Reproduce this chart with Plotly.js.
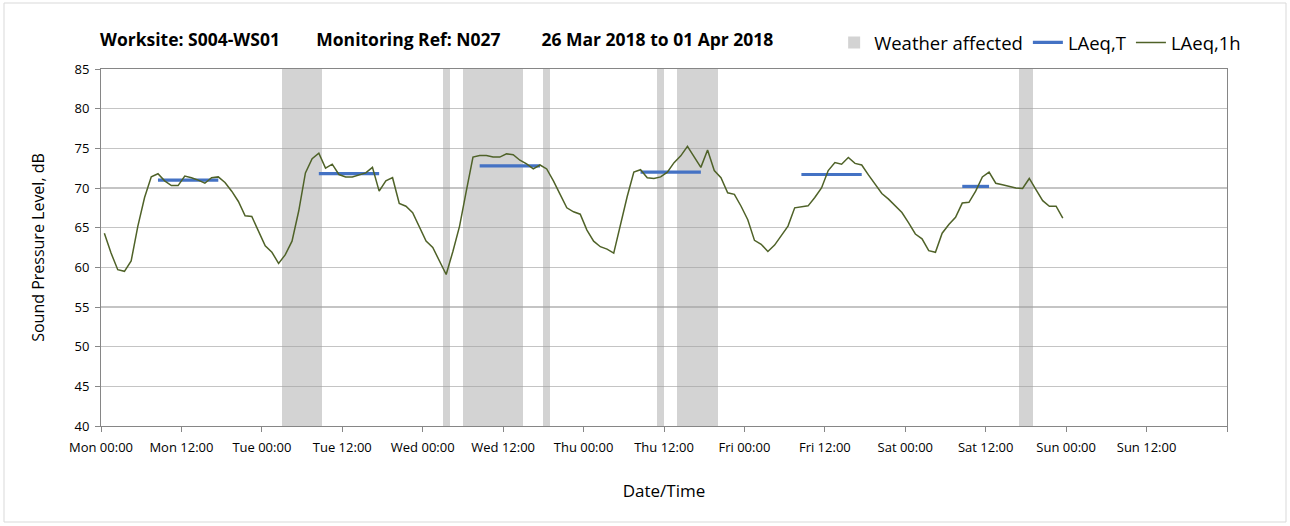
<!DOCTYPE html>
<html><head><meta charset="utf-8">
<script src="https://cdn.plot.ly/plotly-3.0.1.min.js"></script>
<style>html,body{margin:0;padding:0;background:#fff}#chart{width:1290px;height:526px}</style>
</head><body><div id="chart"></div>
<script>
// ---- data ----
const tickHours = [0, 12, 24, 36, 48, 60, 72, 84, 96, 108, 120, 132, 144, 156, 168];
const tickLabels = ['Mon 00:00', 'Mon 12:00', 'Tue 00:00', 'Tue 12:00', 'Wed 00:00', 'Wed 12:00',
  'Thu 00:00', 'Thu 12:00', 'Fri 00:00', 'Fri 12:00', 'Sat 00:00', 'Sat 12:00',
  'Sun 00:00', 'Sun 12:00', ''];
const dayBoundaries = [24, 48, 72, 96, 120, 144];

// hourly LAeq,1h (hour 0 = Mon 00:00), plotted at mid-hour
const laeq1h = [
  64.3, 61.8, 59.7, 59.5, 60.8, 65.2, 68.8, 71.4, 71.8, 70.9, 70.3, 70.3,
  71.5, 71.3, 71.0, 70.6, 71.3, 71.4, 70.7, 69.6, 68.3, 66.5, 66.4, 64.5,
  62.7, 61.9, 60.5, 61.6, 63.3, 67.1, 71.9, 73.7, 74.4, 72.5, 73.0, 71.7,
  71.4, 71.4, 71.65, 71.9, 72.6, 69.6, 70.9, 71.3, 68.05, 67.7, 66.9, 65.2,
  63.3, 62.5, 60.9, 59.1, 62.0, 65.2, 69.6, 73.9, 74.1, 74.1, 73.9, 73.9,
  74.3, 74.2, 73.5, 73.05, 72.4, 72.9, 72.4, 70.9, 69.2, 67.5, 67.0, 66.7,
  64.7, 63.3, 62.6, 62.3, 61.8, 65.4, 68.9, 72.0, 72.3, 71.3, 71.2, 71.4,
  72.0, 73.2, 74.05, 75.25, 73.9, 72.6, 74.8, 72.2, 71.3, 69.4, 69.2, 67.7,
  66.0, 63.4, 62.9, 62.0, 62.8, 64.0, 65.2, 67.5, 67.6, 67.75, 68.8, 70.0,
  72.2, 73.2, 73.0, 73.85, 73.1, 72.9, 71.65, 70.5, 69.3, 68.6, 67.8, 66.9,
  65.6, 64.2, 63.6, 62.1, 61.9, 64.3, 65.4, 66.3, 68.1, 68.2, 69.6, 71.4,
  72.0, 70.6, 70.4, 70.2, 70.0, 69.95, 71.2, 69.8, 68.4, 67.7, 67.7, 66.2
];

// LAeq,T periods
const laeqTStart = [8.5, 32.5, 56.5, 80.5, 104.5, 128.5];
const laeqTEnd   = [17.5, 41.5, 65.5, 89.5, 113.5, 132.5];
const laeqTValue = [71.0, 71.8, 72.8, 72.0, 71.7, 70.2];

// weather affected periods (hours from Mon 00:00)
const weatherStart = [27, 51, 54, 66, 83, 86, 137];
const weatherEnd   = [33, 52, 63, 67, 84, 92, 139];

// ---- build ----
const FONT = '"Open Sans", Lato, sans-serif';
const yMin = 40, yMax = 85;

const x1h = laeq1h.map((_, i) => i + 0.5);

const tX = [], tY = [];
laeqTStart.forEach((s, i) => {
  tX.push(s, laeqTEnd[i], null);
  tY.push(laeqTValue[i], laeqTValue[i], null);
});

const sp = n => '&nbsp;'.repeat(n);

const traces = [
  {
    type: 'bar', name: 'Weather affected',
    x: weatherStart.map((s, i) => (s + weatherEnd[i]) / 2),
    width: weatherStart.map((s, i) => weatherEnd[i] - s),
    y: weatherStart.map(() => yMax - yMin), base: yMin,
    marker: {color: 'rgba(160,160,160,0.46)', line: {width: 0}},
    hoverinfo: 'skip', showlegend: true
  },
  {
    type: 'scatter', mode: 'lines', name: 'LAeq,T', x: tX, y: tY,
    line: {color: '#4472c4', width: 3.2}, connectgaps: false
  },
  {
    type: 'scatter', mode: 'lines', name: 'LAeq,1h', x: x1h, y: laeq1h,
    line: {color: '#4f6228', width: 1.5}
  }
];

const layout = {
  width: 1290, height: 526,
  paper_bgcolor: '#ffffff', plot_bgcolor: '#ffffff',
  margin: {l: 101, r: 63, t: 69, b: 100},
  font: {family: FONT, color: '#000000', size: 13},
  title: {
    text: 'Worksite: S004-WS01' + sp(8) + 'Monitoring Ref: N027' + sp(9) + '26 Mar 2018 to 01 Apr 2018',
    x: 100 / 1290, xanchor: 'left', xref: 'container',
    y: 1 - 40 / 526, yanchor: 'middle', yref: 'container',
    font: {family: FONT, size: 17.5, weight: 'bold', color: '#000000'}
  },
  showlegend: true,
  legend: {
    orientation: 'h', x: 1.017, xanchor: 'right', y: 1.073, yanchor: 'middle',
    font: {family: FONT, size: 18.5, color: '#000000'},
    bgcolor: 'rgba(0,0,0,0)', itemwidth: 30, tracegroupgap: 0
  },
  xaxis: {
    range: [0, 168], tickvals: tickHours, ticktext: tickLabels,
    showgrid: false, zeroline: false,
    ticks: 'outside', ticklen: 5, tickcolor: '#868686', ticklabelstandoff: 4,
    showline: true, linecolor: '#868686', linewidth: 1, mirror: true,
    tickfont: {family: FONT, size: 13, color: '#000000'},
    title: {text: 'Date/Time', font: {family: FONT, size: 17, color: '#000000'}, standoff: 30},
    automargin: false
  },
  xaxis2: {
    overlaying: 'x', anchor: 'y', range: [0, 168], tickvals: dayBoundaries,
    showticklabels: false, ticks: '', showgrid: true, gridcolor: '#d9d9d9', gridwidth: 1.5,
    zeroline: false, showline: false
  },
  yaxis: {
    range: [yMin, yMax], dtick: 5, tick0: 40,
    showgrid: true, gridcolor: '#c4c4c4', gridwidth: 1.2, zeroline: false,
    ticks: 'outside', ticklen: 5, tickcolor: '#868686', ticklabelstandoff: 3,
    showline: true, linecolor: '#868686', linewidth: 1, mirror: true,
    tickfont: {family: FONT, size: 13, color: '#000000'},
    title: {text: 'Sound Pressure Level, dB', font: {family: FONT, size: 16, color: '#000000'}, standoff: 25},
    automargin: false
  },
  bargap: 0,
  shapes: [{
    type: 'rect', xref: 'paper', yref: 'paper',
    x0: (4 - 101) / 1126, x1: (1286 - 101) / 1126,
    y0: (426 - 522) / 357, y1: (426 - 3) / 357,
    line: {color: '#d9d9d9', width: 1}, fillcolor: 'rgba(0,0,0,0)', layer: 'below'
  }]
};

Plotly.newPlot('chart', traces, layout, {staticPlot: true, displayModeBar: false});
</script>
</body></html>
